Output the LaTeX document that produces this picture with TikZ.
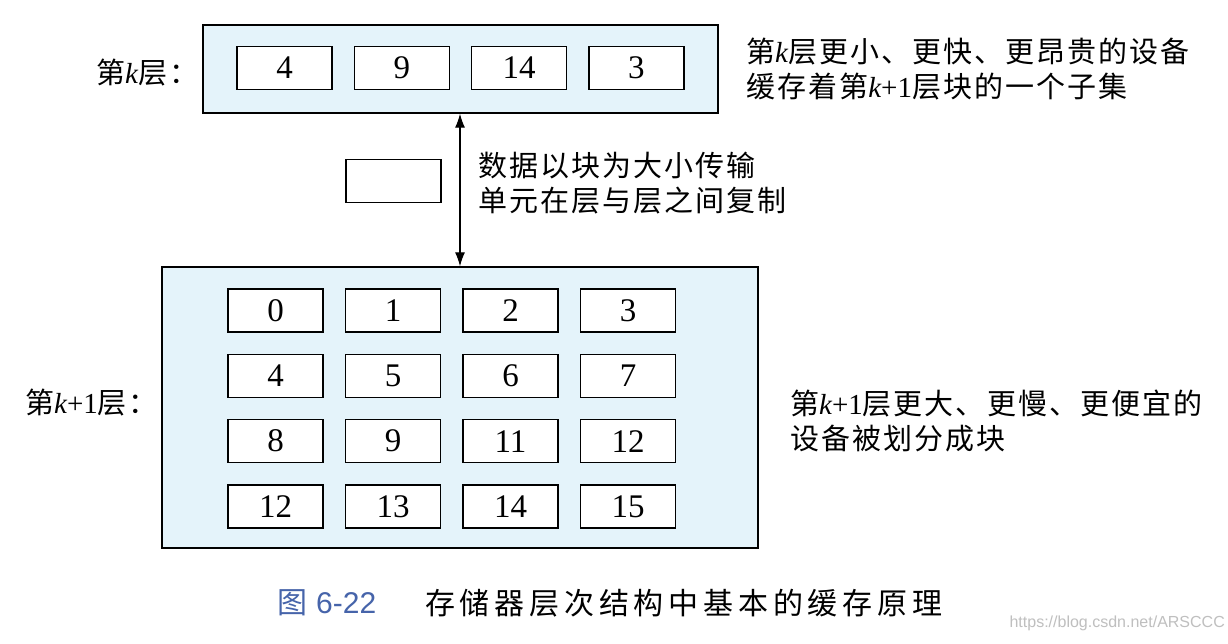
\documentclass[tikz,border=0pt]{standalone}
\usepackage{fontspec}
\usetikzlibrary{arrows.meta}
\setmainfont{Liberation Serif}
\newfontfamily\cjk[LetterSpace=7]{Noto Sans CJK SC}
\newfontfamily\cjkcap[LetterSpace=16]{Noto Sans CJK SC}
\newfontfamily\capsans{Liberation Sans}
\newcommand{\kk}{{\rmfamily\itshape k}}
\definecolor{boxblue}{RGB}{228,243,250}
\definecolor{capblue}{RGB}{70,100,170}
\tikzset{
  outerbox/.style={draw=black, line width=1.3pt, fill=boxblue, inner sep=0pt},
  cell/.style={draw=black, line width=1.2pt, fill=white, inner sep=0pt,
    minimum width=95pt, minimum height=43pt, font=\fontsize{33}{33}\selectfont},
  label/.style={inner sep=0pt, font=\cjk\fontsize{29}{35}\selectfont},
  twoway/.style={line width=1.2pt, {Latex[length=14pt,width=10pt]}-{Latex[length=14pt,width=10pt]}},
}
\begin{document}
\begin{tikzpicture}[x=1pt,y=-1pt]
\useasboundingbox[fill=white] (0,0) rectangle (1228,643);
% level k
\node[outerbox, minimum width=515pt, minimum height=88pt] (top) at (460.5,69) {};
\foreach \v [count=\i from 0] in {4,9,14,3}
  \node[cell] (t\i) at (284.5+117.3*\i,68) {\v};
\node[label, anchor=west] (lk) at (96,73) {第\kk 层：};
\node[label, anchor=west, align=left] (rk) at (746,69) {第\kk 层更小、更快、更昂贵的设备\\缓存着第\kk{\rmfamily +1}层块的一个子集};
% level k+1
\node[outerbox, minimum width=596pt, minimum height=281pt] (bot) at (460,407.5) {};
\foreach \row [count=\j from 0] in {{0,1,2,3},{4,5,6,7},{8,9,11,12},{12,13,14,15}}
  \foreach \v [count=\i from 0] in \row
    \node[cell] (b\j\i) at (275.5+117.5*\i,310.5+65.3*\j) {\v};
\node[label, anchor=west] (lk1) at (25,403) {第\kk{\rmfamily +1}层：};
\node[label, anchor=west, align=left] (rk1) at (790,421) {第\kk{\rmfamily +1}层更大、更慢、更便宜的\\设备被划分成块};
% transfer
\coordinate (ax) at (460,0);
\draw[twoway] (top.south -| ax) -- (bot.north -| ax);
\node[cell] (blk) at (393.5,181) {};
\node[label, anchor=west, align=left] (mid) at (478,183) {数据以块为大小传输\\单元在层与层之间复制};
% caption
\node[inner sep=0pt, anchor=west, text=capblue, font=\fontsize{30}{30}\selectfont] (capno) at (277,603) {{\cjk 图}\hspace{9pt}{\capsans 6-22}};
\node[inner sep=0pt, anchor=west, font=\cjkcap\fontsize{30}{30}\selectfont] (cap) at (425,603) {存储器层次结构中基本的缓存原理};
\node[inner sep=0pt, anchor=east, text=black!25, font=\capsans\fontsize{16}{16}\selectfont] (wm) at (1225,623) {https://blog.csdn.net/ARSCCC};
\end{tikzpicture}
\end{document}
